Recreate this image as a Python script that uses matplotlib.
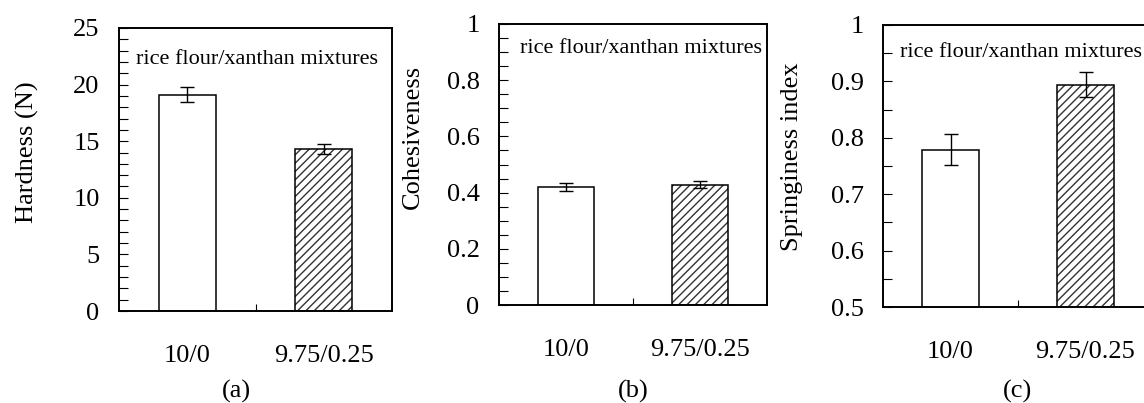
import matplotlib
matplotlib.use("Agg")
import matplotlib.pyplot as plt
from matplotlib.ticker import MultipleLocator, FuncFormatter

plt.rcParams['font.family'] = ['Liberation Serif', 'DejaVu Serif']
plt.rcParams['hatch.linewidth'] = 1.0

# Texture profile of rice flour / xanthan mixtures
categories = ['10/0', '9.75/0.25']
hardness = [19.1, 14.3]
hardness_err = [0.65, 0.45]
cohesiveness = [0.420, 0.428]
cohesiveness_err = [0.013, 0.012]
springiness = [0.779, 0.894]
springiness_err = [0.027, 0.022]

panel_titles = ['(a)', '(b)', '(c)']
y_labels = ['Hardness (N)', 'Cohesiveness', 'Springiness index']
note = 'rice flour/xanthan mixtures'

W, H = 1144, 403
fig = plt.figure(figsize=(W / 100, H / 100), dpi=100)


def px_axes(left, right, top, bottom):
    return fig.add_axes([left / W, (H - bottom) / H, (right - left) / W, (bottom - top) / H])


panels = [
    dict(box=(119, 392, 28, 311), vals=hardness, err=hardness_err, ylim=(0, 25),
         major=5, minor=1, ylab=(-0.335, 0.56), xlab=(0.432, -0.283), note=(0.062, 0.873)),
    dict(box=(499, 767, 24, 305), vals=cohesiveness, err=cohesiveness_err, ylim=(0, 1),
         major=0.2, minor=0.05, ylab=(-0.322, 0.598), xlab=(0.5, -0.306), note=(0.078, 0.897)),
    dict(box=(883, 1153, 25, 307), vals=springiness, err=springiness_err, ylim=(0.5, 1),
         major=0.1, minor=0.05, ylab=(-0.336, 0.532), xlab=(0.5, -0.298), note=(0.063, 0.887)),
]

x = [1, 2]
bar_w = 0.42

for i, p in enumerate(panels):
    ax = px_axes(*p['box'])
    vals, err = p['vals'], p['err']
    # plain white bars
    ax.bar(x, vals, bar_w, color='white', edgecolor='none', zorder=2)
    # diagonal hatching on the xanthan bar
    ax.bar(x[1], vals[1], bar_w, fill=False, hatch='////', edgecolor='#333333',
           linewidth=0, zorder=2.5)
    # bar outlines
    ax.bar(x, vals, bar_w, fill=False, edgecolor='black', linewidth=1.1, zorder=3)
    ax.errorbar(x, vals, yerr=err, fmt='none', ecolor='black', elinewidth=1.0,
                capsize=5, capthick=1.0, zorder=4)

    ax.set_xlim(0.5, 2.5)
    ax.set_ylim(*p['ylim'])
    ax.yaxis.set_major_locator(MultipleLocator(p['major']))
    ax.yaxis.set_minor_locator(MultipleLocator(p['minor']))
    ax.yaxis.set_major_formatter(FuncFormatter(lambda v, pos: f'{v:g}'))
    ax.set_xticks(x)
    ax.set_xticklabels(categories)
    ax.set_xticks([1.5], minor=True)

    ax.tick_params(axis='y', which='both', direction='in', length=6.5, width=0.8,
                   labelsize=19, pad=14, left=True, right=False)
    ax.tick_params(axis='x', which='both', direction='in', length=5, width=0.8,
                   labelsize=19, pad=24.5, bottom=True, top=False)

    for s in ax.spines.values():
        s.set_linewidth(1.4)

    ax.set_ylabel(y_labels[i], fontsize=19)
    ax.yaxis.set_label_coords(*p['ylab'])
    ax.yaxis.label.set_va('center')
    ax.set_xlabel(panel_titles[i], fontsize=19)
    ax.xaxis.set_label_coords(*p['xlab'])
    ax.xaxis.label.set_va('center')

    ax.text(p['note'][0], p['note'][1], note, transform=ax.transAxes,
            fontsize=16, ha='left', va='baseline', zorder=5)

fig.savefig('out.png', dpi=100)
